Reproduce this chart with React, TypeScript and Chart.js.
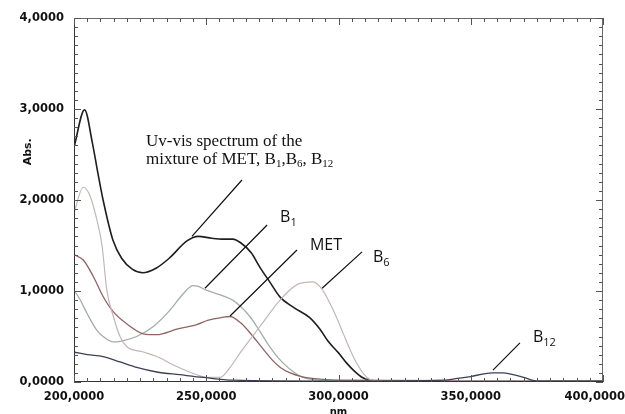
import React, { useEffect, useRef } from "react";
import { Chart, registerables } from "chart.js";

Chart.register(...registerables);

// ---- data (wavelength nm, absorbance) ----
const mixNm = [200, 204, 207, 209, 211, 214.7, 218, 222, 226, 231, 236, 242.7, 247, 252, 256, 260, 263, 267, 270.3, 274, 278, 283, 289, 293, 296, 300, 303, 306, 309, 312, 320, 400];
const mixAbs = [2.58, 2.99, 2.62, 2.3, 2.0, 1.56, 1.36, 1.24, 1.2, 1.25, 1.36, 1.55, 1.6, 1.58, 1.57, 1.57, 1.53, 1.42, 1.26, 1.1, 0.93, 0.82, 0.71, 0.58, 0.45, 0.32, 0.21, 0.12, 0.05, 0.02, 0.01, 0.01];

const b1Nm = [200, 202, 205, 208.6, 211, 214.9, 218, 223.7, 230, 236.3, 241.3, 245, 247, 250, 255, 260, 263, 266.5, 270, 273, 276, 279, 283, 286.6, 292, 300, 400];
const b1Abs = [1.01, 0.92, 0.75, 0.57, 0.5, 0.44, 0.45, 0.5, 0.61, 0.79, 0.97, 1.06, 1.05, 1.01, 0.96, 0.9, 0.83, 0.72, 0.57, 0.43, 0.31, 0.21, 0.11, 0.05, 0.02, 0.01, 0.01];

const metNm = [200, 203.5, 207.3, 211, 214.9, 219.9, 226.2, 231.3, 238.8, 246.4, 250.8, 256, 259, 263, 267.7, 271, 275, 278, 281.7, 286, 290, 300, 400];
const metAbs = [1.4, 1.34, 1.16, 0.94, 0.77, 0.64, 0.53, 0.52, 0.58, 0.63, 0.68, 0.71, 0.72, 0.65, 0.5, 0.38, 0.24, 0.16, 0.1, 0.06, 0.04, 0.02, 0.01];

const b6Nm = [200, 203.5, 206, 208.5, 210.6, 212.4, 214.9, 217.4, 219.9, 226.2, 231.3, 238.8, 246.4, 250, 255.2, 258.5, 262.8, 270.3, 277.9, 284.3, 290.4, 294, 298, 301.7, 304.3, 307, 310.8, 315, 400];
const b6Abs = [1.86, 2.14, 2.05, 1.8, 1.5, 1.01, 0.72, 0.5, 0.39, 0.33, 0.28, 0.17, 0.08, 0.05, 0.05, 0.14, 0.32, 0.61, 0.9, 1.07, 1.1, 1.01, 0.79, 0.54, 0.36, 0.2, 0.05, 0.01, 0.01];

const b12Nm = [200, 205, 211, 217.4, 223.7, 231.3, 240, 248.9, 260, 300, 340, 345, 350, 355, 358.4, 362, 366, 370, 375, 400];
const b12Abs = [0.33, 0.3, 0.28, 0.22, 0.16, 0.11, 0.08, 0.05, 0.02, 0.01, 0.02, 0.04, 0.06, 0.09, 0.1, 0.1, 0.08, 0.05, 0.01, 0.01];

const xTicks = [200, 250, 300, 350, 400];
const yTicks = [0, 1, 2, 3, 4];

// annotation pointer lines [x1, y1, x2, y2] in data units
const mixPointer = [263.5, 2.22, 244.6, 1.6];
const b1Pointer = [273.0, 1.725, 249.5, 1.03];
const metPointer = [284.3, 1.45, 259.0, 0.725];
const b6Pointer = [308.9, 1.43, 293.8, 1.03];
const b12Pointer = [368.6, 0.43, 358.4, 0.13];

const toPts = (xs: number[], ys: number[]) => xs.map((x, i) => ({ x, y: ys[i] }));

type Part = [string, boolean];

function drawRich(ctx: CanvasRenderingContext2D, parts: Part[], x: number, y: number, font: string, subFont: string, subDy: number) {
  let cx = x;
  for (const [t, sub] of parts) {
    ctx.font = sub ? subFont : font;
    ctx.fillText(t, cx, sub ? y + subDy : y);
    cx += ctx.measureText(t).width;
  }
}

const overlay = {
  id: "overlay",
  afterDraw(chart: any) {
    const ctx: CanvasRenderingContext2D = chart.ctx;
    const xs = chart.scales.x;
    const ys = chart.scales.y;
    const { left, right, top, bottom } = chart.chartArea;
    ctx.save();
    // frame
    ctx.strokeStyle = "#6a6a6a";
    ctx.lineWidth = 1;
    ctx.strokeRect(left + 0.5, top + 0.5, right - left - 1, bottom - top - 1);
    ctx.strokeStyle = "#333";
    ctx.beginPath();
    ctx.moveTo(left, bottom - 0.5);
    ctx.lineTo(right, bottom - 0.5);
    ctx.moveTo(left + 0.5, top);
    ctx.lineTo(left + 0.5, bottom);
    ctx.stroke();
    // ticks inward
    ctx.strokeStyle = "#555";
    ctx.beginPath();
    for (let v = 200; v <= 400; v += 5) {
      const px = Math.round(xs.getPixelForValue(v)) + 0.5;
      const major = v % 50 === 0;
      const l = major ? 7 : 4;
      ctx.moveTo(px, bottom);
      ctx.lineTo(px, bottom - l);
      ctx.moveTo(px, top);
      ctx.lineTo(px, top + l);
    }
    for (let i = 0; i <= 40; i++) {
      const v = i / 10;
      const py = Math.round(ys.getPixelForValue(v)) + 0.5;
      const major = i % 10 === 0;
      const l = major ? 7 : 4;
      ctx.moveTo(left, py);
      ctx.lineTo(left + l, py);
      ctx.moveTo(right, py);
      ctx.lineTo(right - l, py);
    }
    ctx.stroke();

    // tick labels
    ctx.fillStyle = "#111";
    ctx.font = "bold 11.5px 'DejaVu Sans'";
    ctx.textAlign = "center";
    ctx.textBaseline = "top";
    for (const v of xTicks) {
      let px = xs.getPixelForValue(v);
      const label = v.toFixed(4).replace(".", ",");
      const w = ctx.measureText(label).width;
      if (px + w / 2 > chart.width) px = chart.width - w / 2;
      ctx.fillText(label, px, bottom + 9);
    }
    ctx.textAlign = "right";
    ctx.textBaseline = "middle";
    for (const v of yTicks) {
      ctx.fillText(v.toFixed(4).replace(".", ","), left - 10, ys.getPixelForValue(v));
    }
    // axis titles
    ctx.save();
    ctx.translate(28, ys.getPixelForValue(2.53));
    ctx.rotate(-Math.PI / 2);
    ctx.textAlign = "center";
    ctx.textBaseline = "middle";
    ctx.font = "bold 11px 'DejaVu Sans'";
    ctx.fillText("Abs.", 0, 0);
    ctx.restore();
    ctx.textAlign = "center";
    ctx.textBaseline = "top";
    ctx.font = "bold 10px 'DejaVu Sans'";
    ctx.fillText("nm", xs.getPixelForValue(300), bottom + 25);

    // pointer lines
    ctx.strokeStyle = "#111";
    ctx.lineWidth = 1.2;
    ctx.beginPath();
    for (const p of [mixPointer, b1Pointer, metPointer, b6Pointer, b12Pointer]) {
      ctx.moveTo(xs.getPixelForValue(p[0]), ys.getPixelForValue(p[1]));
      ctx.lineTo(xs.getPixelForValue(p[2]), ys.getPixelForValue(p[3]));
    }
    ctx.stroke();

    // annotation texts
    ctx.textAlign = "left";
    ctx.textBaseline = "alphabetic";
    ctx.fillStyle = "#111";
    const serif = "17px 'Liberation Serif'";
    const serifSub = "11px 'Liberation Serif'";
    drawRich(ctx, [["Uv-vis spectrum of the", false]], xs.getPixelForValue(227.2), ys.getPixelForValue(2.593), serif, serifSub, 3);
    drawRich(ctx, [["mixture of MET, B", false], ["1", true], [",B", false], ["6", true], [", B", false], ["12", true]], xs.getPixelForValue(227.2), ys.getPixelForValue(2.396), serif, serifSub, 3);
    const sans = "16px 'Open Sans'";
    const sansSub = "11px 'Open Sans'";
    drawRich(ctx, [["B", false], ["1", true]], xs.getPixelForValue(277.9), ys.getPixelForValue(1.758), sans, sansSub, 4);
    drawRich(ctx, [["MET", false]], xs.getPixelForValue(289.2), ys.getPixelForValue(1.45), sans, sansSub, 4);
    drawRich(ctx, [["B", false], ["6", true]], xs.getPixelForValue(313.0), ys.getPixelForValue(1.319), sans, sansSub, 4);
    drawRich(ctx, [["B", false], ["12", true]], xs.getPixelForValue(373.5), ys.getPixelForValue(0.44), sans, sansSub, 4);
    ctx.restore();
  },
};

export default function App() {
  const ref = useRef<HTMLCanvasElement | null>(null);
  useEffect(() => {
    document.body.style.margin = "0";
    const canvas = ref.current!;
    const line = (label: string, xs: number[], ys: number[], color: string, w: number) => ({
      label,
      data: toPts(xs, ys),
      borderColor: color,
      borderWidth: w,
      pointRadius: 0,
      fill: false,
      cubicInterpolationMode: "monotone" as const,
    });
    const chart = new Chart(canvas, {
      type: "line",
      data: {
        datasets: [
          line("B12", b12Nm, b12Abs, "#3d3f58", 1.3),
          line("B6", b6Nm, b6Abs, "#c4b6b6", 1.2),
          line("MET", metNm, metAbs, "#8e6464", 1.3),
          line("B1", b1Nm, b1Abs, "#a3aea8", 1.3),
          line("Mixture", mixNm, mixAbs, "#1e1e1e", 1.6),
        ],
      },
      options: {
        responsive: false,
        animation: false,
        devicePixelRatio: 1,
        layout: { padding: { left: 74, right: 22, top: 18, bottom: 32 } },
        plugins: { legend: { display: false }, tooltip: { enabled: false } },
        scales: {
          x: { type: "linear", min: 200, max: 400, display: false },
          y: { type: "linear", min: 0, max: 4, display: false },
        },
      },
      plugins: [overlay],
    });
    return () => chart.destroy();
  }, []);
  return (
    <div style={{ width: 625, height: 414, background: "#fff" }}>
      <canvas ref={ref} width={625} height={414} />
    </div>
  );
}
